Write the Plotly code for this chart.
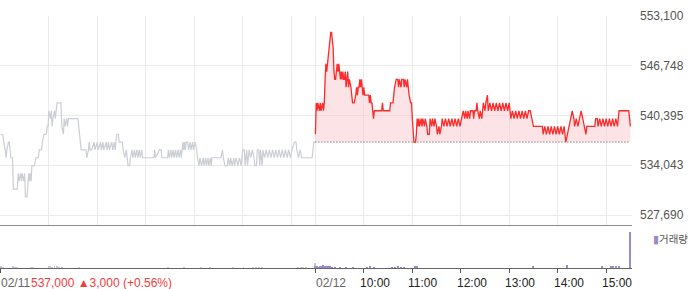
import plotly.graph_objects as go

# ---------------- data ----------------
DAY_LEN = 390  # minutes per session (09:00-15:30)

# 02/11 session: minutes since open, price
d1_min = [0,3,4,6,7,8,10,11,13,15,16,21,22,23,25,26,27,29,30,31,33,35,36,37,38,39,42,44,47,48,51,52,54,57,58,59,
          60,62,63,64,65,67,68,69,70,75,76,78,79,80,82,83,84,96,98,100,106,107,109,110,111,113,116,117,120,121,124,125,
          127,128,131,132,134,135,138,139,141,142,144,146,147,151,152,154,156,157,158,160,161,163,164,166,167,169,170,172,
          173,175,176,179,190,191,192,197,199,200,207,208,209,211,212,214,215,217,218,220,221,223,224,226,227,228,229,230,
          232,233,235,236,238,239,241,243,244,246,247,249,251,252,254,255,257,258,260,261,262,263,272,273,275,276,278,281,
          282,284,285,287,289,290,292,294,296,298,300,302,303,305,306,308,310,312,314,315,317,318,320,321,322,324,325,327,
          329,331,333,335,337,339,341,343,345,347,349,351,353,355,357,359,361,364,366,367,369,371,373,386,388,390]
d1_price = [538,538,537,536,535,536,537,537,535,535,531,531,533,532,533,532,533,532,533,530,530,533,532,533,532,534,534,535,535,536,536,537,538,538,539,539,
            541,540,541,539,540,541,540,541,542,542,539,538,540,539,540,539,540,540,538,536,536,535,536,537,536,536,537,536,537,536,537,536,
            537,536,537,536,537,536,537,536,537,536,538,538,537,537,536,535,536,535,534,534,535,536,535,536,535,536,535,536,
            535,536,535,535,535,536,535,536,536,535,535,536,535,536,535,536,535,536,535,536,535,536,535,537,536,537,536,537,
            537,536,537,536,537,536,537,536,535,534,535,534,535,534,535,534,535,534,535,534,535,535,535,535,536,535,534,534,
            535,534,535,534,535,534,535,534,535,534,536,536,534,536,534,536,535,536,535,534,534,536,536,534,536,534,536,535,
            536,535,536,535,536,535,536,535,536,535,536,535,536,535,536,535,536,537,537,536,535,536,535,535,537,537]

# 02/12 session: minutes since open, price
d2_min = [0,1,2,3,5,6,7,9,10,11,12,13,14,15,16,17,18,19,20,21,22,23,24,25,26,27,28,29,30,31,32,33,34,35,36,37,38,39,40,41,42,
          44,45,46,48,50,51,52,53,54,55,56,57,58,59,60,61,63,66,67,68,69,70,72,73,82,83,84,92,93,96,97,98,100,102,103,104,106,
          107,109,110,111,113,114,116,118,119,120,122,124,125,126,127,128,129,131,132,133,135,136,138,139,141,142,144,145,147,
          148,150,151,153,154,156,157,159,161,163,165,167,169,171,173,175,177,179,181,183,185,186,188,189,191,192,195,196,197,
          199,200,201,203,204,206,207,208,210,211,213,214,216,218,220,222,224,226,228,230,232,234,236,238,240,242,244,246,248,
          250,252,254,256,258,260,262,264,266,268,270,281,282,284,286,288,290,292,294,296,298,300,302,304,306,308,310,312,314,
          316,318,320,321,323,325,327,329,331,333,335,336,346,347,349,350,352,354,356,358,360,362,364,366,368,370,372,374,376,
          388,390]
d2_price = [538,542,541,542,541,542,541,542,541,542,545,547,546,547,548,549,550,551,551,550,549,546,545,545,546,547,546,547,546,545,546,545,546,545,545,546,544,545,546,544,545,
            544,543,542,542,543,544,543,544,544,545,544,545,544,543,544,543,543,543,542,543,542,542,540,541,541,542,541,541,542,542,543,544,545,545,544,545,544,
            545,545,544,545,544,545,543,542,542,540,537,537,538,540,539,540,539,540,539,540,539,540,539,538,538,540,539,540,539,
            540,539,538,539,538,539,540,539,540,539,540,539,540,539,540,539,540,539,540,541,540,541,540,541,540,541,541,540,541,
            541,542,541,540,541,540,541,542,541,542,543,541,542,541,542,541,542,541,542,541,542,541,542,541,542,540,541,540,541,
            540,541,540,541,540,541,540,541,541,540,539,539,538,539,538,539,538,539,538,539,538,539,538,539,538,539,537,538,539,
            540,541,540,539,540,539,540,541,540,539,538,539,539,540,540,539,540,539,540,539,540,539,540,539,540,539,540,539,541,
            541,539]

prev_close = 537000

# volume (minutes since session open, shares)
v1_min = [1,3,16,18,20,38,40,60,62,64,67,70,73,76,97,207,227,248,260,288,301,313,316,320,324,369,372,375,378,389]
v1_vol = [8000,5000,6000,4000,5000,5000,4000,6000,8000,5000,7000,6000,5000,4000,5000,4000,4000,4000,5000,4000,5000,4000,5000,4000,5000,4000,5000,4000,4000,25000]
v2_min = [0,2,4,6,8,10,12,14,16,18,20,24,30,38,46,64,68,72,95,98,102,106,110,123,126,269,311,355,366,369,372,376,390]
v2_vol = [6000,8000,5000,10000,7000,15000,9000,12000,8000,6000,5000,5000,4000,5000,4000,5000,6000,4000,5000,5000,6000,5000,4000,12000,6000,6000,15000,8000,8000,9000,8000,7000,180000]

price_ticks = [527690, 534043, 540395, 546748, 553100]
date_labels = ["02/11", "02/12"]
hour_labels = ["10:00", "11:00", "12:00", "13:00", "14:00", "15:00"]
summary_text = "537,000 ▲3,000 (+0.56%)"
legend_text = "거래량"

# ---------------- build ----------------
x1 = list(d1_min)
y1 = [p * 1000 for p in d1_price]
x2 = [DAY_LEN + m for m in d2_min]
y2 = [p * 1000 for p in d2_price]
vx1 = list(v1_min)
vx2 = [DAY_LEN + m for m in v2_min]

FONT = "Liberation Sans, Arial, sans-serif"

fig = go.Figure()

fig.add_trace(go.Scatter(x=x1, y=y1, mode="lines", line=dict(color="#cbced4", width=1.2),
                         hoverinfo="skip", showlegend=False, xaxis="x", yaxis="y"))
fig.add_trace(go.Scatter(x=[DAY_LEN, 2 * DAY_LEN], y=[prev_close, prev_close], mode="lines",
                         line=dict(color="#555555", width=1, dash="1px,2px"),
                         hoverinfo="skip", showlegend=False, xaxis="x", yaxis="y"))
fig.add_trace(go.Scatter(x=x2, y=y2, mode="lines", line=dict(color="#ff2a2a", width=1.3),
                         fill="tonexty", fillcolor="rgba(250,200,205,0.5)",
                         hoverinfo="skip", showlegend=False, xaxis="x", yaxis="y"))

fig.add_trace(go.Bar(x=vx1, y=v1_vol, width=1.2, marker=dict(color="#c9c6d6", line=dict(width=0)),
                     hoverinfo="skip", showlegend=False, xaxis="x2", yaxis="y2"))
fig.add_trace(go.Bar(x=vx2, y=v2_vol, width=1.2, marker=dict(color="#9c8bcb", line=dict(width=0)),
                     hoverinfo="skip", showlegend=False, xaxis="x2", yaxis="y2"))

PLOT_W = 632
xr = [-0.5, 782]
grid_vals = [h * 60 for h in range(0, 7)] + [DAY_LEN] + [DAY_LEN + h * 60 for h in range(1, 7)]
tick_vals = [0, DAY_LEN] + [DAY_LEN + h * 60 for h in range(1, 7)]

vol_frac = 43 / 252

fig.update_layout(
    width=700, height=289,
    margin=dict(l=0, r=700 - PLOT_W, t=16, b=21),
    paper_bgcolor="white", plot_bgcolor="white",
    bargap=0,
    xaxis=dict(domain=[0, 1], range=xr, anchor="y", tickvals=grid_vals, showticklabels=False,
               showgrid=True, gridcolor="#ebebeb", gridwidth=1, zeroline=False,
               showline=True, linecolor="#8c8c8c", linewidth=1, ticks="", fixedrange=True),
    xaxis2=dict(domain=[0, 1], range=xr, anchor="y2", matches="x", tickvals=tick_vals,
                showticklabels=False, showgrid=False, zeroline=False,
                showline=True, linecolor="#666666", linewidth=1,
                ticks="outside", ticklen=4, tickcolor="#555555", tickwidth=1),
    yaxis=dict(domain=[vol_frac, 1], range=[526413, 553100], side="right",
               tickvals=price_ticks, ticktext=[f"{v:,}" for v in price_ticks],
               tickfont=dict(family=FONT, size=12, color="#555555"),
               showgrid=True, gridcolor="#ebebeb", gridwidth=1, zeroline=False,
               showline=False, ticks="", ticklabelstandoff=7),
    yaxis2=dict(domain=[0, vol_frac], range=[0, 215000], showticklabels=False,
                showgrid=False, zeroline=False, showline=False, ticks=""),
)

annotations = []
for lab, pos in zip(date_labels, [0, DAY_LEN]):
    annotations.append(dict(x=pos, xref="x2", y=0, yref="paper", yshift=-15, yanchor="middle",
                            xanchor="left", xshift=-1, text=lab, showarrow=False,
                            font=dict(family=FONT, size=12, color="#666666")))
for i, lab in enumerate(hour_labels):
    annotations.append(dict(x=DAY_LEN + (i + 1) * 60, xref="x2", y=0, yref="paper", yshift=-15,
                            yanchor="middle", xanchor="left", xshift=-6, text=lab, showarrow=False,
                            font=dict(family=FONT, size=12, color="#222222")))
annotations.append(dict(x=29 / PLOT_W, xref="paper", y=0, yref="paper", yshift=-15, yanchor="middle",
                        xanchor="left", text=summary_text, showarrow=False,
                        font=dict(family=FONT, size=12, color="#f23c3c")))
annotations.append(dict(x=651 / PLOT_W, xref="paper", y=(268 - 238) / 252, yref="paper",
                        xanchor="left", yanchor="middle",
                        text="<span style='color:#9c8bcb'>▮</span>" + legend_text, showarrow=False,
                        font=dict(family="Noto Sans CJK KR, sans-serif", size=10.5, color="#555555")))
fig.update_layout(annotations=annotations)

fig.write_html("out.html", config={"displayModeBar": False})
